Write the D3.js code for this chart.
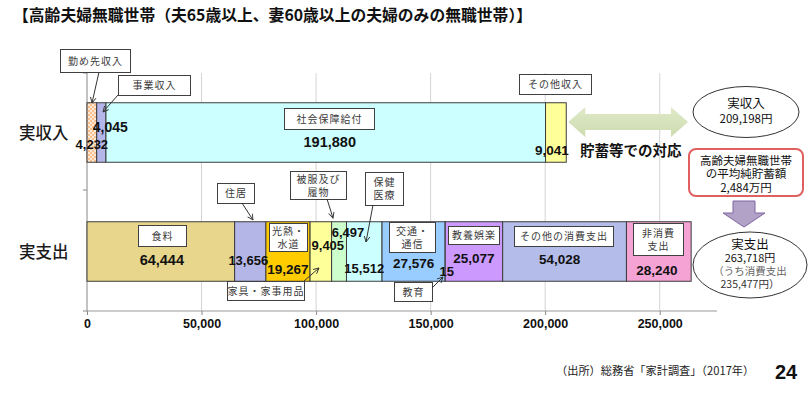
<!DOCTYPE html>
<html>
<head>
<meta charset="utf-8">
<script src="https://cdn.jsdelivr.net/npm/d3@7"></script>
<style>
  body { margin: 0; background: #fff; }
  .jp { font-family: "Noto Sans CJK JP", "Noto Sans", sans-serif; }
  .num { font-family: "Liberation Sans", Arial, sans-serif; font-weight: bold; fill: #111; }
  .box text { font-family: "Noto Sans CJK JP", sans-serif; font-size: 10px; fill: #3a3a3a; letter-spacing: 1px; }
  .x-axis text { font-family: "Liberation Sans Narrow", "Liberation Sans", Arial, sans-serif; font-weight: bold; font-size: 12.5px; fill: #111; }
</style>
</head>
<body>
<div id="chart"></div>
<script>
// data
var categories = ["実収入", "実支出"];
var incomeItems = ["勤め先収入", "事業収入", "社会保障給付", "その他収入"];
var incomeValues = [4232, 4045, 191880, 9041];
var spendItems = ["食料", "住居", "光熱・水道", "家具・家事用品", "被服及び履物", "保健医療",
                  "交通・通信", "教育", "教養娯楽", "その他の消費支出", "非消費支出"];
var spendValues = [64444, 13656, 19267, 9405, 6497, 15512, 27576, 15, 25077, 54028, 28240];
var xTicks = [0, 50000, 100000, 150000, 200000, 250000];
var incomeTotal = "209,198円";
var spendTotal = "263,718円";
var consumeTotal = "235,477円";
var savings = "2,484万円";

// colours
var incomeColors = ["url(#dots)", "#b4b6ea", "#ccffff", "#ffff99"];
var spendColors = ["#e8d68c", "#b4b6e8", "#ffcc00", "#ffff99", "#ccffcc", "#ccffff",
                   "#99ccff", "#cc99ff", "#cc99ff", "#b4bcea", "#f5a3d5"];

var svgWidth = 812;
var svgHeight = 394;

var svg = d3.select("#chart")
    .append("svg")
    .attr("width", svgWidth)
    .attr("height", svgHeight);

var defs = svg.append("defs");
var pat = defs.append("pattern")
    .attr("id", "dots")
    .attr("width", 4).attr("height", 4)
    .attr("patternUnits", "userSpaceOnUse");
pat.append("rect").attr("width", 4).attr("height", 4).attr("fill", "#f7c08c");
pat.append("rect").attr("width", 2).attr("height", 2).attr("fill", "#fff").attr("opacity", 0.65);
pat.append("rect").attr("x", 2).attr("y", 2).attr("width", 2).attr("height", 2).attr("fill", "#fff").attr("opacity", 0.65);

var grad = defs.append("linearGradient")
    .attr("id", "green").attr("x1", 0).attr("x2", 0).attr("y1", 0).attr("y2", 1);
grad.append("stop").attr("offset", "0%").attr("stop-color", "#dfe9c8");
grad.append("stop").attr("offset", "100%").attr("stop-color", "#cddcaf");

defs.append("marker")
    .attr("id", "arr")
    .attr("viewBox", "0 0 10 10")
    .attr("refX", 9).attr("refY", 5)
    .attr("markerWidth", 7).attr("markerHeight", 7)
    .attr("orient", "auto")
    .append("path")
    .attr("d", "M1,1 L9,5 L1,9")
    .attr("fill", "none")
    .attr("stroke", "#333")
    .attr("stroke-width", 1.3);

var plot = { left: 87, right: 717, top: 73, bottom: 311 };

var x = d3.scaleLinear().domain([0, 275000]).range([plot.left, plot.right]);
var y = d3.scaleBand().domain(categories).range([plot.top, plot.bottom])
    .paddingInner(0.5).paddingOuter(0.25);

// multi-line text as one element
function multiText(sel, lines, cx, cy, lh) {
    var n = lines.length;
    var t = sel.append("text")
        .attr("x", cx)
        .attr("y", cy - (n - 1) / 2 * lh)
        .attr("text-anchor", "middle");
    lines.forEach(function(s, i) {
        t.append("tspan").attr("x", cx).attr("dy", i === 0 ? 0 : lh).text(s);
    });
    return t;
}

// title
svg.append("text")
    .attr("class", "jp")
    .attr("x", 13).attr("y", 21)
    .attr("font-size", 15.8).attr("font-weight", "bold").attr("fill", "#111")
    .text("【高齢夫婦無職世帯（夫65歳以上、妻60歳以上の夫婦のみの無職世帯）】");

// grid
svg.append("g").selectAll("line")
    .data(xTicks.slice(1))
    .enter().append("line")
    .attr("x1", d => x(d)).attr("x2", d => x(d))
    .attr("y1", plot.top).attr("y2", plot.bottom)
    .attr("stroke", "#d4d4d4");

// x axis
var xAxis = svg.append("g")
    .attr("class", "x-axis")
    .attr("transform", `translate(0, ${plot.bottom})`)
    .call(d3.axisBottom(x).tickValues(xTicks).tickFormat(d3.format(",")).tickSize(4).tickPadding(4));
xAxis.select(".domain").attr("stroke", "#999").attr("d", `M${plot.left},0H${plot.right}`);
xAxis.selectAll(".tick line").attr("stroke", "#888");

// y axis
var yEdges = [plot.top, (plot.top + plot.bottom) / 2 - 2, plot.bottom];
svg.append("line")
    .attr("x1", plot.left).attr("x2", plot.left)
    .attr("y1", plot.top).attr("y2", plot.bottom)
    .attr("stroke", "#888");
svg.append("g").selectAll("line")
    .data(yEdges).enter().append("line")
    .attr("x1", plot.left - 4).attr("x2", plot.left)
    .attr("y1", d => d).attr("y2", d => d)
    .attr("stroke", "#888");

svg.append("g").selectAll("text")
    .data(categories).enter().append("text")
    .attr("class", "jp")
    .attr("x", 19)
    .attr("y", d => y(d) + y.bandwidth() / 2 + 6)
    .attr("font-size", 16.5).attr("font-weight", 500).attr("fill", "#1a1a1a")
    .text(d => d);

// bars
function rows(items, values, colors) {
    var ends = d3.cumsum(values);
    return items.map((k, i) => ({ key: k, value: values[i], x0: ends[i] - values[i], x1: ends[i], color: colors[i] }));
}
var incomeRows = rows(incomeItems, incomeValues, incomeColors);
var spendRows = rows(spendItems, spendValues, spendColors);

function drawBar(data, cat) {
    svg.append("g").selectAll("rect")
        .data(data).enter().append("rect")
        .attr("x", d => x(d.x0))
        .attr("y", y(cat))
        .attr("width", d => x(d.x1) - x(d.x0))
        .attr("height", y.bandwidth())
        .attr("fill", d => d.color)
        .attr("stroke", "#3c3c3c")
        .attr("stroke-width", 1);
}
drawBar(incomeRows, "実収入");
drawBar(spendRows, "実支出");

// callout boxes (annotation layout)
var boxes = [
    { lines: ["勤め先収入"], b: [60, 49, 70, 23], arrow: [[99, 72], [92, 103]] },
    { lines: ["事業収入"], b: [118, 75, 72, 20], arrow: [[118, 95], [103, 112]] },
    { lines: ["社会保障給付"], b: [284, 108, 90, 21] },
    { lines: ["その他収入"], b: [519, 74, 72, 20] },
    { lines: ["食料"], b: [138, 225, 48, 21] },
    { lines: ["住居"], b: [217, 183, 37, 20], arrow: [[242, 203], [253, 220]] },
    { lines: ["光熱・", "水道"], b: [269, 223, 38, 28] },
    { lines: ["家具・家事用品"], b: [227, 281, 77, 19], arrow: [[304, 281], [319, 268]] },
    { lines: ["被服及び", "履物"], b: [290, 171, 56, 28], arrow: [[327, 199], [333, 218]] },
    { lines: ["保健", "医療"], b: [365, 172, 38, 33], arrow: [[373, 205], [366, 242]] },
    { lines: ["交通・", "通信"], b: [389, 222, 46, 30] },
    { lines: ["教育"], b: [394, 282, 38, 19], arrow: [[432, 288], [443, 277]] },
    { lines: ["教養娯楽"], b: [448, 226, 51, 18] },
    { lines: ["その他の消費支出"], b: [514, 226, 99, 20] },
    { lines: ["非消費", "支出"], b: [633, 223, 50, 32] }
];

boxes.forEach(function(c) {
    var g = svg.append("g").attr("class", "box");
    g.append("rect")
        .attr("x", c.b[0] + 0.5).attr("y", c.b[1] + 0.5)
        .attr("width", c.b[2]).attr("height", c.b[3])
        .attr("fill", "#fff").attr("stroke", "#404040");
    var lh = Math.min(13, c.b[3] / c.lines.length);
    multiText(g, c.lines, c.b[0] + c.b[2] / 2 + 0.5, c.b[1] + c.b[3] / 2 + 4, lh);
    if (c.arrow) {
        g.append("line")
            .attr("x1", c.arrow[0][0]).attr("y1", c.arrow[0][1])
            .attr("x2", c.arrow[1][0]).attr("y2", c.arrow[1][1])
            .attr("stroke", "#333").attr("stroke-width", 1)
            .attr("marker-end", "url(#arr)");
    }
});

// value labels: offsets from segment centre / band centre, and font size
var incomeOffsets = [[0, 11.5, 13], [9, -5.5, 14], [4, 9.5, 14.5], [-4, 17.5, 13.5]];
var spendOffsets = [[1, 8.5, 14.5], [-2, 8.5, 13], [0, 17.5, 13.5], [7, -6.5, 13], [9, -19.5, 13],
                    [0, 16.5, 13], [0, 11.5, 13.5], [1.5, 19.5, 13], [0, 6.5, 13.5], [-5, 7.5, 13.5], [-2, 18.5, 13.5]];

function drawValues(data, cat, offs) {
    var cy = y(cat) + y.bandwidth() / 2;
    svg.append("g").selectAll("text")
        .data(data).enter().append("text")
        .attr("class", "num")
        .attr("text-anchor", "middle")
        .attr("x", (d, i) => (x(d.x0) + x(d.x1)) / 2 + offs[i][0])
        .attr("y", (d, i) => cy + offs[i][1] + offs[i][2] * 0.36)
        .attr("font-size", (d, i) => offs[i][2])
        .text(d => d3.format(",")(d.value));
}
drawValues(incomeRows, "実収入", incomeOffsets);
drawValues(spendRows, "実支出", spendOffsets);

// double arrow (savings)
var ax0 = x(d3.sum(incomeValues)) + 2, ax1 = 688, acy = 122;
svg.append("path")
    .attr("d", `M${ax0},${acy} L${ax0 + 17},${acy - 15} L${ax0 + 17},${acy - 8} L${ax1 - 17},${acy - 8} L${ax1 - 17},${acy - 15} L${ax1},${acy} L${ax1 - 17},${acy + 15} L${ax1 - 17},${acy + 8} L${ax0 + 17},${acy + 8} L${ax0 + 17},${acy + 15} Z`)
    .attr("fill", "url(#green)");

svg.append("text")
    .attr("class", "jp")
    .attr("x", 580).attr("y", 156)
    .attr("font-size", 14.5).attr("font-weight", "bold").attr("fill", "#111")
    .text("貯蓄等での対応");

// ellipses and notes
var side = svg.append("g").attr("class", "jp").attr("fill", "#111");
side.append("ellipse")
    .attr("cx", 746).attr("cy", 112).attr("rx", 53).attr("ry", 25.5)
    .attr("fill", "#fff").attr("stroke", "#333");
var t1 = multiText(side, ["実収入", incomeTotal], 746, 115, 15).attr("font-size", 11.5);
t1.select("tspan").attr("font-size", 12.5);

side.append("rect")
    .attr("x", 689).attr("y", 149).attr("width", 114).attr("height", 47).attr("rx", 7)
    .attr("fill", "#fff").attr("stroke", "#e06060").attr("stroke-width", 2);
multiText(side, ["高齢夫婦無職世帯", "の平均純貯蓄額", savings], 746, 178, 13.5).attr("font-size", 11.5);

side.append("path")
    .attr("d", "M733,201 L755,201 L755,213 L765,213 L744,227 L723,213 L733,213 Z")
    .attr("fill", "#b3a2c7").attr("stroke", "#7f64a2");

side.append("ellipse")
    .attr("cx", 750).attr("cy", 265).attr("rx", 57).attr("ry", 33)
    .attr("fill", "#fff").attr("stroke", "#333");
var t2 = multiText(side, ["実支出", spendTotal, "（うち消費支出", consumeTotal + "）"], 750, 268.5, 13).attr("font-size", 10.5);
t2.selectAll("tspan").each(function(d, i) {
    var s = d3.select(this);
    if (i === 0) s.attr("font-size", 12.5);
    if (i === 1) s.attr("font-size", 11);
    if (i === 2) s.attr("fill", "#666");
    if (i === 3) s.attr("fill", "#333");
});

// footer
svg.append("text")
    .attr("class", "jp")
    .attr("x", 556).attr("y", 375)
    .attr("font-size", 11.2).attr("fill", "#222")
    .text("（出所）総務省「家計調査」（2017年）");
svg.append("text")
    .attr("x", 775).attr("y", 379)
    .attr("font-family", "Liberation Sans Narrow, Liberation Sans, Arial, sans-serif")
    .attr("font-size", 20).attr("font-weight", "bold").attr("fill", "#111")
    .text("24");
</script>
</body>
</html>
